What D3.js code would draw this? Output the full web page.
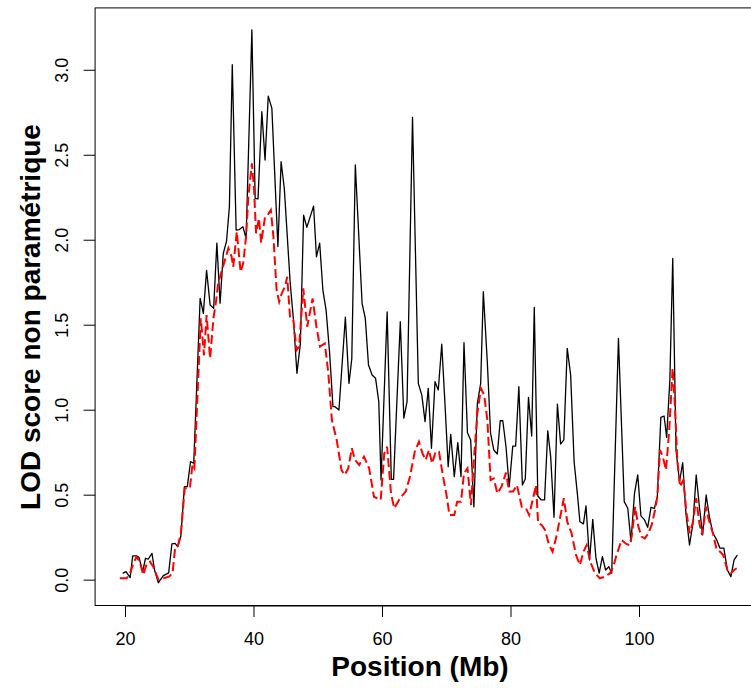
<!DOCTYPE html>
<html>
<head>
<meta charset="utf-8">
<script src="https://cdn.jsdelivr.net/npm/d3@7"></script>
<style>
  body { margin: 0; background: #fff; }
  svg { display: block; font-family: "Liberation Sans", Arial, Helvetica, sans-serif; }
</style>
</head>
<body>
<script>
// LOD score (solid black)
const blackPos = [19.64, 20.16, 20.8, 21.2, 21.8, 22.2, 22.75, 23.2, 23.6, 24.2, 24.6, 25.2, 25.97, 26.5, 26.8,
  27.3, 27.8, 28.2, 28.7, 29.25, 29.7, 30.2, 30.7, 31.7, 32.2, 32.7, 33.25, 33.8, 34.3, 34.8, 35.3, 35.8, 36.25,
  36.7, 37.3, 37.8, 38.35, 38.85, 39.75, 40.26, 40.7, 41.3, 41.8, 42.3, 42.86, 43.8, 44.3, 44.8, 45.7, 46.2,
  46.76, 47.3, 47.8, 48.3, 49.35, 49.8, 50.3, 50.8, 51.3, 51.85, 52.37, 52.7, 53.3, 54.3, 54.86, 55.3, 55.85,
  56.9, 57.4, 57.9, 58.46, 59.0, 59.5, 59.85, 60.8, 61.45, 61.8, 62.85, 63.4, 63.9, 64.75, 65.65, 66.2, 66.7,
  67.2, 67.7, 68.25, 68.76, 69.3, 69.8, 70.3, 70.7, 71.25, 71.8, 72.3, 72.76, 73.3, 73.8, 74.3, 74.84, 75.36,
  75.77, 76.4, 76.9, 77.4, 77.95, 78.4, 78.8, 79.3, 79.8, 80.35, 80.8, 81.3, 81.85, 82.3, 82.8, 83.3, 83.7,
  84.25, 84.8, 85.3, 85.8, 86.25, 86.77, 87.3, 87.8, 88.3, 88.83, 89.36, 89.9, 90.4, 90.8, 91.35, 91.75, 92.3,
  92.8, 93.3, 93.8, 94.3, 94.8, 95.3, 95.75, 96.8, 97.7, 98.25, 98.75, 99.3, 99.8, 100.3, 100.8, 101.35,
  101.87, 102.4, 102.85, 103.4, 103.9, 104.3, 104.8, 105.25, 105.76, 106.3, 106.8, 107.3, 107.86, 108.4,
  108.9, 109.4, 109.9, 110.45, 110.95, 111.5, 112.1, 112.6, 113.2, 113.75, 114.3, 114.8, 115.3];
const blackLod = [0.037, 0.047, 0.012, 0.14, 0.14, 0.13, 0.047, 0.126, 0.12, 0.155, 0.057, -0.018, 0.024, 0.034,
  0.04, 0.21, 0.214, 0.194, 0.257, 0.547, 0.547, 0.694, 0.685, 1.655, 1.567, 1.82, 1.616, 1.596, 1.98, 1.626,
  1.92, 1.99, 2.194, 3.03, 2.057, 2.06, 2.077, 2.008, 3.234, 2.243, 2.24, 2.753, 2.469, 2.845, 2.773, 1.96,
  2.459, 2.3, 1.753, 1.538, 1.214, 1.39, 2.145, 2.073, 2.198, 1.9, 1.98, 1.704, 1.586, 1.332, 1.018, 1.018,
  0.998, 1.544, 1.155, 1.3, 2.44, 1.626, 1.538, 1.263, 1.204, 1.185, 1.047, 0.586, 1.576, 0.59, 0.59, 1.518,
  0.95, 1.047, 2.72, 1.155, 1.086, 0.93, 1.126, 0.773, 1.165, 1.116, 1.385, 1.037, 0.665, 0.855, 0.606, 0.806,
  0.606, 1.394, 0.865, 0.822, 0.429, 1.037, 1.155, 1.694, 1.273, 0.861, 0.763, 0.739, 0.935, 0.935, 0.782,
  0.547, 0.786, 0.786, 1.135, 0.557, 0.592, 1.073, 0.845, 1.602, 0.492, 0.469, 0.469, 0.876, 0.724, 0.367,
  1.033, 0.798, 0.822, 1.361, 1.204, 0.694, 0.508, 0.341, 0.328, 0.434, 0.116, 0.355, 0.126, 0.038, 0.135,
  0.057, 0.076, 0.038, 1.42, 0.459, 0.42, 0.224, 0.508, 0.616, 0.375, 0.355, 0.308, 0.426, 0.42, 0.488, 0.955,
  0.963, 0.838, 1.175, 1.89, 0.763, 0.576, 0.688, 0.39, 0.204, 0.332, 0.616, 0.429, 0.263, 0.498, 0.371,
  0.273, 0.234, 0.185, 0.185, 0.057, 0.018, 0.116, 0.145];

// second LOD curve (red dashed)
const redPos = [19.2, 20.25, 20.8, 21.3, 21.8, 22.3, 22.85, 23.4, 23.9, 24.4, 25.2, 26.0, 26.85, 27.4, 27.8, 28.2,
  28.7, 29.3, 30.1, 30.5, 30.8, 31.8, 32.3, 32.7, 33.25, 33.77, 34.2, 34.5, 35.4, 36.1, 36.6, 36.85, 37.4, 38.0,
  38.4, 38.85, 39.2, 39.75, 40.1, 40.4, 40.85, 41.2, 41.8, 42.2, 42.7, 43.1, 43.6, 44.0, 44.4, 44.9, 45.25,
  45.7, 46.2, 46.7, 47.1, 47.75, 48.37, 49.2, 49.8, 50.35, 51.1, 51.65, 52.2, 52.95, 53.7, 54.2, 54.75, 55.3,
  55.8, 56.45, 57.2, 58.0, 58.75, 59.8, 60.35, 60.8, 61.4, 61.9, 62.8, 63.7, 64.35, 65.1, 65.75, 66.3, 66.8,
  67.3, 67.8, 68.35, 68.87, 69.5, 70.0, 70.5, 71.25, 71.7, 72.3, 72.76, 73.3, 73.85, 74.3, 74.84, 75.4, 75.9,
  76.4, 76.9, 77.4, 77.95, 78.6, 79.3, 79.8, 80.4, 81.0, 81.75, 82.4, 82.9, 83.45, 83.97, 84.3, 84.85, 85.37,
  86.0, 86.55, 87.2, 87.7, 88.3, 88.83, 89.5, 90.2, 90.8, 91.35, 91.86, 92.4, 93.15, 93.9, 94.7, 95.5, 96.0,
  96.5, 97.3, 98.0, 98.5, 98.86, 99.4, 99.9, 100.4, 100.9, 101.45, 101.97, 102.5, 102.85, 103.27, 103.7, 104.2,
  104.7, 105.23, 105.6, 105.96, 106.4, 106.9, 107.4, 107.9, 108.4, 108.9, 109.4, 109.8, 110.45, 110.8, 111.5,
  112.1, 112.6, 113.1, 113.75, 114.3, 114.8, 115.2];
const redLod = [0.008, 0.008, 0.038, 0.096, 0.135, 0.106, 0.028, 0.096, 0.106, 0.076, 0.0, 0.008, 0.018, 0.038,
  0.185, 0.194, 0.273, 0.538, 0.538, 0.675, 0.655, 1.538, 1.32, 1.557, 1.302, 1.538, 1.645, 1.743, 1.861, 1.95,
  1.9, 1.84, 2.047, 1.81, 1.861, 2.018, 2.253, 2.449, 2.292, 2.038, 2.126, 1.982, 2.135, 2.145, 2.175, 2.018,
  1.704, 1.635, 1.685, 1.724, 1.782, 1.538, 1.528, 1.351, 1.371, 1.714, 1.488, 1.655, 1.488, 1.371, 1.39,
  1.214, 0.939, 0.822, 0.645, 0.616, 0.655, 0.773, 0.704, 0.675, 0.724, 0.655, 0.488, 0.469, 0.743, 0.782,
  0.508, 0.42, 0.479, 0.52, 0.606, 0.753, 0.812, 0.743, 0.704, 0.763, 0.684, 0.753, 0.753, 0.606, 0.508, 0.38,
  0.38, 0.459, 0.459, 0.626, 0.655, 0.439, 0.704, 0.979, 1.126, 1.086, 0.939, 0.586, 0.596, 0.508, 0.547, 0.63,
  0.518, 0.518, 0.557, 0.429, 0.42, 0.38, 0.469, 0.557, 0.332, 0.322, 0.292, 0.204, 0.165, 0.263, 0.361, 0.479,
  0.341, 0.273, 0.145, 0.086, 0.165, 0.204, 0.106, 0.038, 0.008, 0.018, 0.038, 0.076, 0.145, 0.234, 0.21, 0.204,
  0.253, 0.429, 0.312, 0.253, 0.243, 0.273, 0.322, 0.41, 0.488, 0.763, 0.724, 0.645, 0.88, 1.244, 1.018, 0.704,
  0.547, 0.586, 0.39, 0.273, 0.341, 0.479, 0.332, 0.263, 0.429, 0.361, 0.273, 0.175, 0.165, 0.145, 0.057,
  0.038, 0.057, 0.067];

const xTicks = [20, 40, 60, 80, 100];
const yTicks = [0, 0.5, 1, 1.5, 2, 2.5, 3];

const width = 751, height = 688;
const box = { left: 95.1, right: 762.7, top: 7.9, bottom: 605.5 };

const x = d3.scaleLinear().domain([15.35, 119.25]).range([box.left, box.right]);
const y = d3.scaleLinear().domain([-0.152, 3.364]).range([box.bottom, box.top]);

const svg = d3.select("body").append("svg")
  .attr("width", width)
  .attr("height", height);

svg.append("rect")
  .attr("width", width)
  .attr("height", height)
  .attr("fill", "#fff");

const line = d3.line()
  .x(d => x(d[0]))
  .y(d => y(d[1]));

svg.append("path")
  .datum(d3.zip(blackPos, blackLod))
  .attr("d", line)
  .attr("fill", "none")
  .attr("stroke", "#000")
  .attr("stroke-width", 1.3)
  .attr("stroke-linejoin", "round");

svg.append("path")
  .datum(d3.zip(redPos, redLod))
  .attr("d", line)
  .attr("fill", "none")
  .attr("stroke", "#ff0000")
  .attr("stroke-width", 2)
  .attr("stroke-dasharray", "9,4");

// plot frame (right side runs past the picture edge)
svg.append("rect")
  .attr("x", box.left)
  .attr("y", box.top)
  .attr("width", box.right - box.left)
  .attr("height", box.bottom - box.top)
  .attr("fill", "none")
  .attr("stroke", "#000")
  .attr("stroke-width", 1);

// x axis
const xAxis = svg.append("g")
  .attr("transform", `translate(0,${box.bottom})`)
  .call(d3.axisBottom(x).tickValues(xTicks).tickSize(11.5).tickPadding(15.5).tickFormat(d3.format("d")));
xAxis.select(".domain")
  .attr("d", `M${x(20)},0.5H${x(100)}`);
xAxis.selectAll("text")
  .attr("font-size", 18)
  .attr("font-family", "Liberation Sans, Arial, sans-serif")
  .attr("fill", "#000");

// y axis, labels rotated like R's default
const yAxis = svg.append("g")
  .attr("transform", `translate(${box.left},0)`)
  .call(d3.axisLeft(y).tickValues(yTicks).tickSize(11.5).tickFormat(d3.format(".1f")));
yAxis.select(".domain").remove();
yAxis.selectAll("text")
  .attr("font-size", 18)
  .attr("font-family", "Liberation Sans, Arial, sans-serif")
  .attr("fill", "#000")
  .attr("x", null)
  .attr("dy", null)
  .attr("text-anchor", "middle")
  .attr("transform", "translate(-27,0) rotate(-90)");

svg.append("text")
  .attr("x", 420)
  .attr("y", 676)
  .attr("text-anchor", "middle")
  .attr("font-size", 28)
  .attr("font-weight", "bold")
  .text("Position (Mb)");

svg.append("text")
  .attr("transform", "translate(40,317) rotate(-90)")
  .attr("text-anchor", "middle")
  .attr("font-size", 28)
  .attr("font-weight", "bold")
  .text("LOD score non paramétrique");
</script>
</body>
</html>
